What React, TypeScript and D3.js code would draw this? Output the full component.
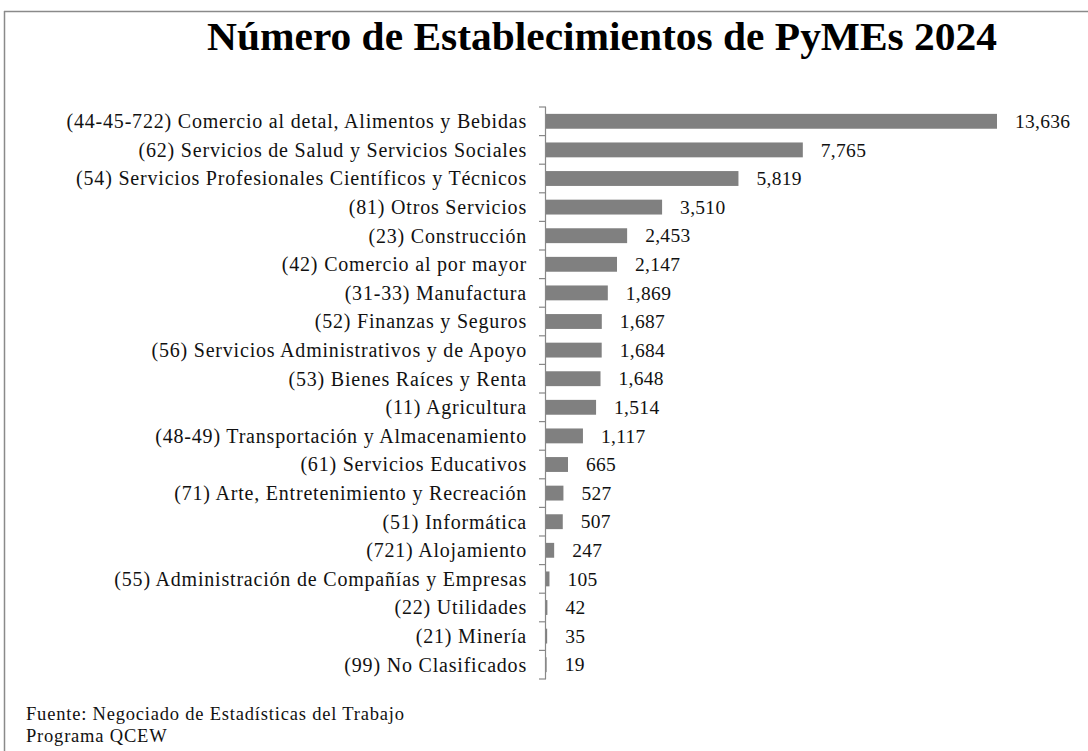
import React from "react";
import * as d3 from "d3";

const categories = [
  "(44-45-722) Comercio al detal, Alimentos y Bebidas",
  "(62) Servicios de Salud y Servicios Sociales",
  "(54) Servicios Profesionales Científicos y Técnicos",
  "(81) Otros Servicios",
  "(23) Construcción",
  "(42) Comercio al por mayor",
  "(31-33) Manufactura",
  "(52) Finanzas y Seguros",
  "(56) Servicios Administrativos y de Apoyo",
  "(53) Bienes Raíces y Renta",
  "(11) Agricultura",
  "(48-49) Transportación y Almacenamiento",
  "(61) Servicios Educativos",
  "(71) Arte, Entretenimiento y Recreación",
  "(51) Informática",
  "(721) Alojamiento",
  "(55) Administración de Compañías y Empresas",
  "(22) Utilidades",
  "(21) Minería",
  "(99) No Clasificados",
];

const values = [13636, 7765, 5819, 3510, 2453, 2147, 1869, 1687, 1684, 1648, 1514, 1117, 665, 527, 507, 247, 105, 42, 35, 19];

const title = "Número de Establecimientos de PyMEs 2024";
const footer = ["Fuente: Negociado de Estadísticas del Trabajo", "Programa QCEW"];

export default function App() {
  const W = 1088, H = 751;
  const axisX = 546;
  const top = 107, bottom = 679;
  const x = d3.scaleLinear().domain([0, 13636]).range([axisX, 997]);
  const y = d3.scaleBand<string>().domain(categories).range([top, bottom]).paddingInner(0.48).paddingOuter(0.24);
  const fmt = d3.format(",");
  const font = "'Liberation Serif', 'Times New Roman', serif";
  const tickYs = d3.range(categories.length + 1).map((i) => top + i * (bottom - top) / categories.length);

  return (
    <svg width={W} height={H} style={{ position: "absolute", left: 0, top: 0, background: "#fff" }}>
      <rect x={0} y={0} width={W} height={H} fill="#fff" />
      <line x1={4.5} y1={11} x2={4.5} y2={H} stroke="#8a8a8a" strokeWidth={1.5} />
      <line x1={4} y1={11.5} x2={W} y2={11.5} stroke="#8a8a8a" strokeWidth={1.5} />
      <text x={207} y={50} textLength={790} lengthAdjust="spacingAndGlyphs" fontFamily={font} fontWeight="bold" fontSize={39} fill="#000">{title}</text>
      {categories.map((c, i) => (
        <g key={c}>
          <rect x={axisX} y={y(c)!} width={Math.max(0, x(values[i]) - axisX)} height={y.bandwidth()} fill="#808080" />
          <text x={527} y={y(c)! + y.bandwidth() / 2} dy="0.34em" textAnchor="end" fontFamily={font} fontSize={20} letterSpacing={0.8} fill="#111">{c}</text>
          <text x={x(values[i]) + 18} y={y(c)! + y.bandwidth() / 2} dy="0.34em" fontFamily={font} fontSize={19.5} letterSpacing={0.3} fill="#111">{fmt(values[i])}</text>
        </g>
      ))}
      <line x1={axisX - 0.5} y1={top} x2={axisX - 0.5} y2={bottom} stroke="#888" strokeWidth={1.2} />
      {tickYs.map((ty, i) => (
        <line key={i} x1={axisX - 7} y1={ty} x2={axisX} y2={ty} stroke="#888" strokeWidth={1.2} />
      ))}
      {footer.map((t, i) => (
        <text key={t} x={26} y={720 + i * 22} fontFamily={font} fontSize={18.5} letterSpacing={0.8} fill="#111">{t}</text>
      ))}
    </svg>
  );
}
